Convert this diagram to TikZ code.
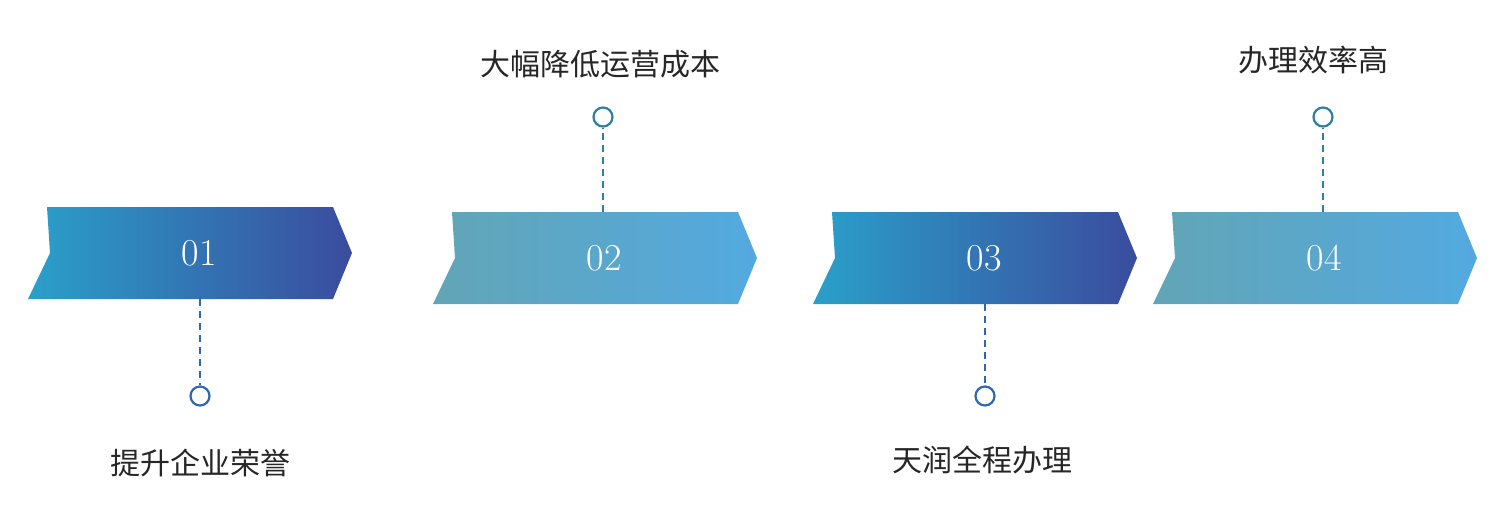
\documentclass[tikz,border=0pt]{standalone}
\usepackage{fontspec}
\newfontfamily\cjk{Noto Sans CJK SC}
\begin{document}
\begin{tikzpicture}[x=1pt,y=-1pt,
  lbl/.style={font=\cjk\fontsize{30}{30}\selectfont,text=black!85},
  num/.style={font=\fontsize{38}{38}\selectfont,text=white},
  ring/.style={circle,draw=#1,line width=2.2pt,minimum size=19pt,inner sep=0pt,fill=white},
  dline/.style={draw=#1,line width=2.6pt,dash pattern=on 7pt off 5pt}]
\definecolor{dA}{HTML}{2AA0CA}\definecolor{dB}{HTML}{3A4C9E}
\definecolor{lA}{HTML}{62A5B6}\definecolor{lB}{HTML}{53A9E0}
\definecolor{ringA}{HTML}{3067B2}\definecolor{ringB}{HTML}{2F7FA0}
\useasboundingbox (0,0) rectangle (1505,528);
\newcommand{\chev}[6]{% x,y,name,colA,colB,label
  \shade[left color=#4,right color=#5] (#1,#2) -- ++(286,0) -- ++(19,46) -- ++(-19,46) -- ++(-305,0) -- ++(22,-46) -- cycle;
  \node[num] (#3) at (#1+152,#2+46) {#6};}
\chev{47}{207}{c1}{dA}{dB}{01}
\chev{452}{212}{c2}{lA}{lB}{02}
\chev{832}{212}{c3}{dA}{dB}{03}
\chev{1172}{212}{c4}{lA}{lB}{04}
\coordinate (b1) at (200,299); \node[ring=ringA] (r1) at (200,396) {};
\draw[dline=ringA] (b1) -- (r1);
\node[lbl] (t1) at (200,463) {提升企业荣誉};
\coordinate (b2) at (603,212); \node[ring=ringB] (r2) at (603,117) {};
\draw[dline=ringB] (b2) -- (r2);
\node[lbl] (t2) at (600,64) {大幅降低运营成本};
\coordinate (b3) at (985,304); \node[ring=ringA] (r3) at (985,396) {};
\draw[dline=ringA] (b3) -- (r3);
\node[lbl] (t3) at (982,460) {天润全程办理};
\coordinate (b4) at (1323,212); \node[ring=ringB] (r4) at (1323,117) {};
\draw[dline=ringB] (b4) -- (r4);
\node[lbl] (t4) at (1313,60) {办理效率高};
\end{tikzpicture}
\end{document}
